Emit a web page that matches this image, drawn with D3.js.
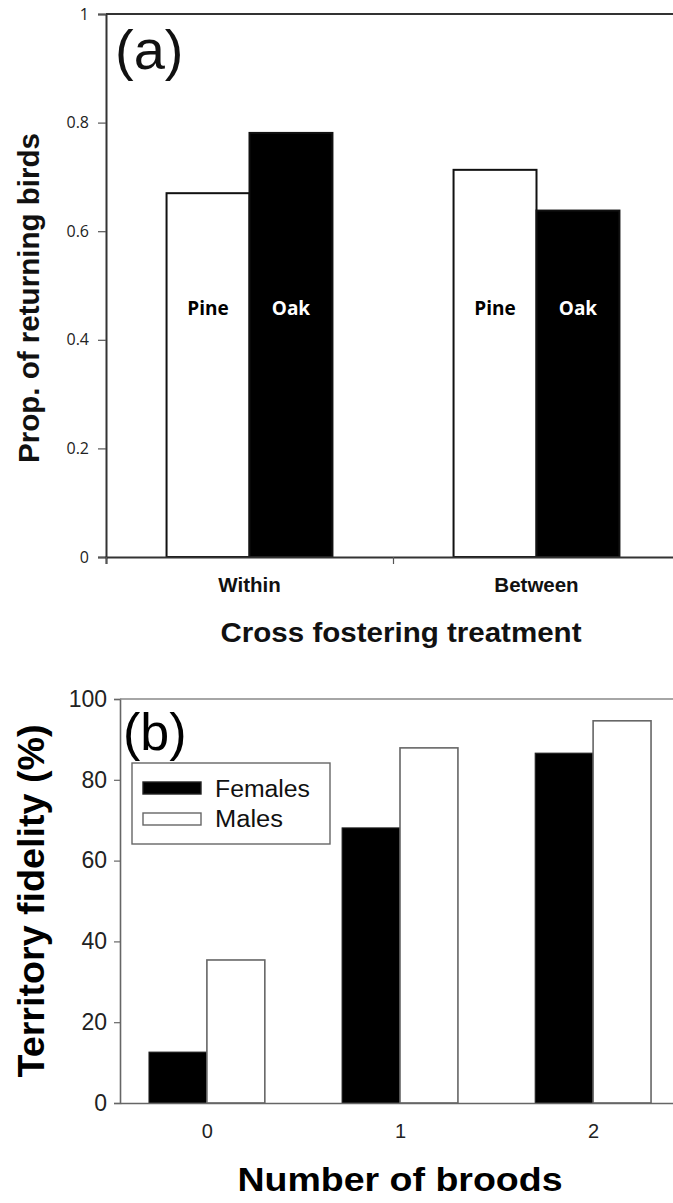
<!DOCTYPE html>
<html><head><meta charset="utf-8">
<script src="https://cdn.jsdelivr.net/npm/d3@7"></script>
<style>
html,body{margin:0;padding:0;background:#fff;overflow:hidden}
svg{display:block}
</style>
</head><body>
<svg id="c" width="673" height="1203"></svg>
<script>
// ---------- Data ----------
// Panel (a)
const treatments = ["Within", "Between"];
const habitats = ["Pine", "Oak"];
const pineValues = [0.670, 0.713];
const oakValues = [0.781, 0.638];
const yTicksA = [0, 0.2, 0.4, 0.6, 0.8, 1];
const yTickLabelsA = ["0", "0.2", "0.4", "0.6", "0.8", "1"];

// Panel (b)
const broods = [0, 1, 2];
const femalesValues = [12.6, 68.1, 86.6];
const malesValues = [35.4, 87.9, 94.6];
const yTicksB = [0, 20, 40, 60, 80, 100];
const sexes = ["Females", "Males"];

const svg = d3.select("#c");

// ================= Panel (a) =================
const A = {left:106, right:680, top:14, bottom:557};
const x0 = d3.scaleBand().domain(treatments).range([A.left, A.right]).padding(0);
const x1 = d3.scaleBand().domain(habitats).range([0, x0.bandwidth()]).paddingInner(0).paddingOuter(0.73);
const yA = d3.scaleLinear().domain([0, 1]).range([A.bottom, A.top]);

const gA = svg.append("g");
const rowsA = treatments.map((t, i) => ({t, Pine: pineValues[i], Oak: oakValues[i]}));

// bars
rowsA.forEach(r => {
  habitats.forEach(h => {
    gA.append("rect")
      .attr("x", x0(r.t) + x1(h))
      .attr("y", yA(r[h]))
      .attr("width", x1.bandwidth())
      .attr("height", yA(0) - yA(r[h]))
      .attr("fill", h === "Pine" ? "#fff" : "#000")
      .attr("stroke", "#111")
      .attr("stroke-width", 2);
    gA.append("text")
      .attr("x", x0(r.t) + x1(h) + x1.bandwidth()/2)
      .attr("y", yA(0.445))
      .attr("text-anchor", "middle")
      .attr("font-family", "'Open Sans', sans-serif")
      .attr("font-weight", "bold")
      .attr("font-size", 19)
      .attr("fill", h === "Pine" ? "#000" : "#fff")
      .text(h);
  });
});

// y axis (a)
const yAxisA = d3.axisLeft(yA).tickValues(yTicksA).tickFormat((d,i) => yTickLabelsA[i]).tickSize(8).tickPadding(9);
const gyA = gA.append("g").attr("transform", `translate(${A.left},0)`).call(yAxisA);
gyA.select(".domain").attr("stroke", "#333").attr("stroke-width", 2);
gyA.selectAll(".tick line").attr("stroke", "#555").attr("stroke-width", 1.2);
gyA.selectAll(".tick text").attr("font-family", "'Open Sans', sans-serif").attr("font-size", 16).attr("fill", "#222");

// x axis (a): ticks at band boundaries
const xAxisA = d3.axisBottom(d3.scaleLinear().domain([0, 2]).range([A.left, A.right]))
  .tickValues([0, 1, 2]).tickSize(7).tickFormat("");
const gxA = gA.append("g").attr("transform", `translate(0,${A.bottom})`).call(xAxisA);
gxA.select(".domain").attr("stroke", "#333").attr("stroke-width", 2);
gxA.selectAll(".tick line").attr("stroke", "#555").attr("stroke-width", 1.2);

// top border
gA.append("line").attr("x1", A.left).attr("x2", A.right).attr("y1", A.top).attr("y2", A.top)
  .attr("stroke", "#333").attr("stroke-width", 2);

// category labels
treatments.forEach(t => {
  gA.append("text")
    .attr("x", x0(t) + x0.bandwidth()/2)
    .attr("y", 592)
    .attr("text-anchor", "middle")
    .attr("font-family", "'Liberation Sans', Arial, sans-serif")
    .attr("font-weight", "bold")
    .attr("font-size", 20.5)
    .attr("fill", "#111")
    .text(t);
});

// panel label
gA.append("text").attr("x", 115).attr("y", 69)
  .attr("font-family", "'Liberation Sans', Arial, sans-serif")
  .attr("font-size", 56).attr("fill", "#111").text("(a)");

// axis titles (a)
gA.append("text")
  .attr("transform", "translate(39,298) rotate(-90)")
  .attr("text-anchor", "middle")
  .attr("font-family", "'Liberation Sans', Arial, sans-serif")
  .attr("font-weight", "bold").attr("font-size", 29)
  .attr("textLength", 330).attr("lengthAdjust", "spacingAndGlyphs")
  .attr("fill", "#111")
  .text("Prop. of returning birds");
gA.append("text")
  .attr("x", 401).attr("y", 642)
  .attr("text-anchor", "middle")
  .attr("font-family", "'Liberation Sans', Arial, sans-serif")
  .attr("font-weight", "bold").attr("font-size", 28)
  .attr("textLength", 361).attr("lengthAdjust", "spacingAndGlyphs")
  .attr("fill", "#111")
  .text("Cross fostering treatment");

// ================= Panel (b) =================
const B = {left:120, right:680, top:699, bottom:1103};
const xB = d3.scaleLinear().domain([-0.45, 2.45]).range([B.left, B.right]);
const yB = d3.scaleLinear().domain([0, 100]).range([B.bottom, B.top]);
const barW = 0.3;
const gB = svg.append("g");

broods.forEach((b, i) => {
  gB.append("rect")
    .attr("x", xB(b - barW)).attr("y", yB(femalesValues[i]))
    .attr("width", xB(b) - xB(b - barW)).attr("height", yB(0) - yB(femalesValues[i]))
    .attr("fill", "#000").attr("stroke", "#222").attr("stroke-width", 1);
  gB.append("rect")
    .attr("x", xB(b)).attr("y", yB(malesValues[i]))
    .attr("width", xB(b + barW) - xB(b)).attr("height", yB(0) - yB(malesValues[i]))
    .attr("fill", "#fff").attr("stroke", "#666").attr("stroke-width", 1.6);
});

// y axis (b)
const yAxisB = d3.axisLeft(yB).tickValues(yTicksB).tickSize(6).tickPadding(7);
const gyB = gB.append("g").attr("transform", `translate(${B.left},0)`).call(yAxisB);
gyB.select(".domain").attr("stroke", "#666").attr("stroke-width", 1.6);
gyB.selectAll(".tick line").attr("stroke", "#666").attr("stroke-width", 1.2);
gyB.selectAll(".tick text").attr("font-family", "'Liberation Sans', Arial, sans-serif")
  .attr("font-size", 23).attr("fill", "#222");

// x axis (b)
const xAxisB = d3.axisBottom(xB).tickValues(broods).tickSize(0).tickPadding(21).tickFormat(d3.format("d"));
const gxB = gB.append("g").attr("transform", `translate(0,${B.bottom})`).call(xAxisB);
gxB.select(".domain").attr("stroke", "#666").attr("stroke-width", 1.6);
gxB.selectAll(".tick text").attr("font-family", "'Liberation Sans', Arial, sans-serif")
  .attr("font-size", 20).attr("fill", "#222");

// top border
gB.append("line").attr("x1", B.left).attr("x2", B.right).attr("y1", B.top).attr("y2", B.top)
  .attr("stroke", "#888").attr("stroke-width", 1.6);

// panel label
gB.append("text").attr("x", 123).attr("y", 750)
  .attr("font-family", "'Liberation Sans', Arial, sans-serif")
  .attr("font-size", 52).attr("fill", "#000").text("(b)");

// legend
const lg = gB.append("g");
lg.append("rect").attr("x", 132).attr("y", 763).attr("width", 198).attr("height", 81)
  .attr("fill", "#fff").attr("stroke", "#666").attr("stroke-width", 1.4);
sexes.forEach((s, i) => {
  lg.append("rect").attr("x", 143).attr("y", 782 + i*31).attr("width", 58).attr("height", 12)
    .attr("fill", s === "Females" ? "#000" : "#fff")
    .attr("stroke", s === "Females" ? "#222" : "#666").attr("stroke-width", 1.4);
  lg.append("text").attr("x", 215).attr("y", 797 + i*30)
    .attr("font-family", "'Liberation Sans', Arial, sans-serif")
    .attr("font-size", 23).attr("fill", "#111")
    .attr("textLength", s === "Females" ? 95 : 68).attr("lengthAdjust", "spacingAndGlyphs")
    .text(s);
});

// axis titles (b)
gB.append("text")
  .attr("transform", "translate(44,901) rotate(-90)")
  .attr("text-anchor", "middle")
  .attr("font-family", "'Liberation Sans', Arial, sans-serif")
  .attr("font-weight", "bold").attr("font-size", 36)
  .attr("textLength", 353).attr("lengthAdjust", "spacingAndGlyphs")
  .attr("fill", "#000")
  .text("Territory fidelity (%)");
gB.append("text")
  .attr("x", 400).attr("y", 1191)
  .attr("text-anchor", "middle")
  .attr("font-family", "'Liberation Sans', Arial, sans-serif")
  .attr("font-weight", "bold").attr("font-size", 33)
  .attr("textLength", 325).attr("lengthAdjust", "spacingAndGlyphs")
  .attr("fill", "#000")
  .text("Number of broods");
</script>
</body></html>
